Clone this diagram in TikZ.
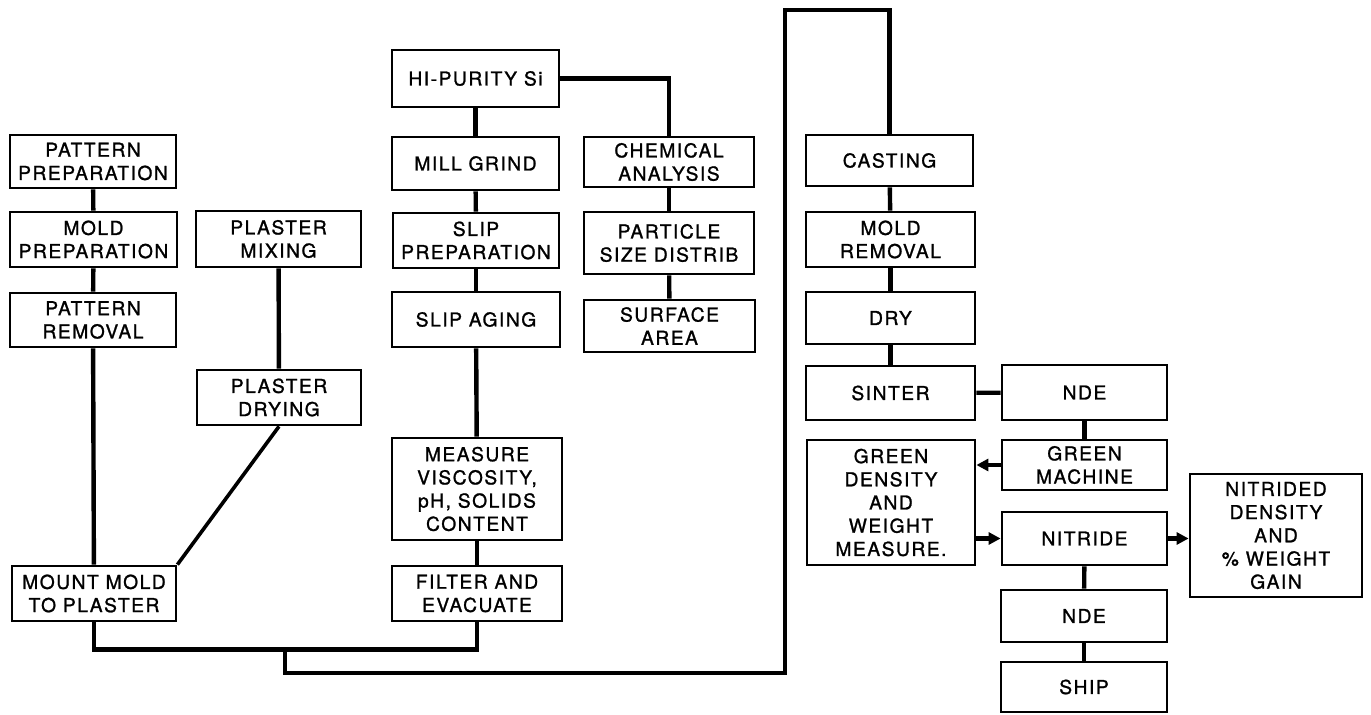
\documentclass[tikz,border=0pt]{standalone}
\usepackage{fontspec}
\setmainfont{TeX Gyre Heros}[LetterSpace=8,FakeBold=1.2]
\usetikzlibrary{arrows.meta}
\tikzset{
  box/.style={draw, line width=1.4pt, rectangle, inner sep=0pt, align=center,
    font=\fontsize{9.6}{11.6}\selectfont},
  link/.style={line width=2.2pt},
  diag/.style={line width=1.8pt},
  arr/.style={line width=2.2pt, -{Triangle[length=6pt,width=6pt]}},
}
\newcommand\bx[6]{\node[box, minimum width={(#4-#2)*0.5pt}, minimum height={(#5-#3)*0.5pt}] (#1) at ({(#2+#4)/2},{(#3+#5)/2}) {#6};}
\begin{document}
\begin{tikzpicture}[x=0.5pt,y=-0.5pt]
\useasboundingbox (0,0) rectangle (1371,715);
% left column
\bx{pp}{10}{135}{176}{188}{PATTERN\\PREPARATION}
\bx{mp}{10}{212}{177}{267}{MOLD\\PREPARATION}
\bx{pr}{10}{293}{176}{347}{PATTERN\\REMOVAL}
\bx{mm}{12}{566}{176}{621}{MOUNT MOLD\\TO PLASTER}
\bx{pm}{196}{211}{361}{267}{PLASTER\\MIXING}
\bx{pd}{197}{370}{361}{425}{PLASTER\\DRYING}
% slip column
\bx{hp}{392}{50}{559}{107}{HI-PURITY Si}
\bx{mg}{392}{137}{559}{190}{MILL GRIND}
\bx{sp}{393}{213}{559}{268}{SLIP\\PREPARATION}
\bx{sa}{392}{292}{560}{347}{SLIP AGING}
\bx{mv}{392}{438}{562}{540}{MEASURE\\VISCOSITY,\\pH, SOLIDS\\CONTENT}
\bx{fe}{392}{566}{562}{621}{FILTER AND\\EVACUATE}
\bx{ca}{584}{137}{754}{187}{CHEMICAL\\ANALYSIS}
\bx{ps}{584}{212}{754}{274}{PARTICLE\\SIZE DISTRIB}
\bx{sf}{584}{300}{755}{352}{SURFACE\\AREA}
% right part
\bx{cs}{806}{135}{973}{186}{CASTING}
\bx{mr}{806}{212}{975}{267}{MOLD\\REMOVAL}
\bx{dr}{806}{292}{975}{344}{DRY}
\bx{si}{806}{366}{975}{420}{SINTER}
\bx{nd}{1002}{365}{1167}{420}{NDE}
\bx{gm}{1002}{440}{1167}{490}{GREEN\\MACHINE}
\bx{gd}{807}{440}{975}{565}{GREEN\\DENSITY\\AND\\WEIGHT\\MEASURE.}
\bx{ni}{1002}{512}{1167}{565}{NITRIDE}
\bx{nb}{1001}{590}{1167}{642}{NDE}
\bx{sh}{1001}{662}{1167}{712}{SHIP}
\bx{nw}{1190}{474}{1362}{597}{NITRIDED\\DENSITY\\AND\\\%\ WEIGHT\\GAIN}
% coordinates for the long route
\coordinate (j1) at (285,648);
\coordinate (j2) at (285,673);
\coordinate (j3) at (785,673);
\coordinate (j4) at (785,10);
% connectors
\draw[link] (pp) -- (mp);
\draw[link] (mp) -- (pr);
\draw[link] (pr) -- (mm);
\draw[link] (pm) -- (pd);
\draw[diag] (pd.south) -- (mm.north east);
\draw[link] (mm.south) -- ++(0,27) -| (fe.south);
\draw[link] (j1) -- (j2) -- (j3) -- (j4) -| (cs.north);
\draw[link] (hp) -- (mg);
\draw[link] (mg) -- (sp);
\draw[link] (sp) -- (sa);
\draw[link] (sa) -- (mv);
\draw[link] (mv) -- (fe);
\draw[link] (hp.east) -| (ca.north);
\draw[link] (ca) -- (ps);
\draw[link] (ps) -- (sf);
\draw[link] (cs) -- (mr);
\draw[link] (mr) -- (dr);
\draw[link] (dr) -- (si);
\draw[link] (si) -- (nd);
\draw[link] (nd) -- (gm);
\draw[arr] (gm.west) -- (gm.west -| gd.east);
\draw[arr] (gd.east |- ni.west) -- (ni.west);
\draw[arr] (ni.east) -- (ni.east -| nw.west);
\draw[link] (ni) -- (nb);
\draw[link] (nb) -- (sh);
\end{tikzpicture}
\end{document}
